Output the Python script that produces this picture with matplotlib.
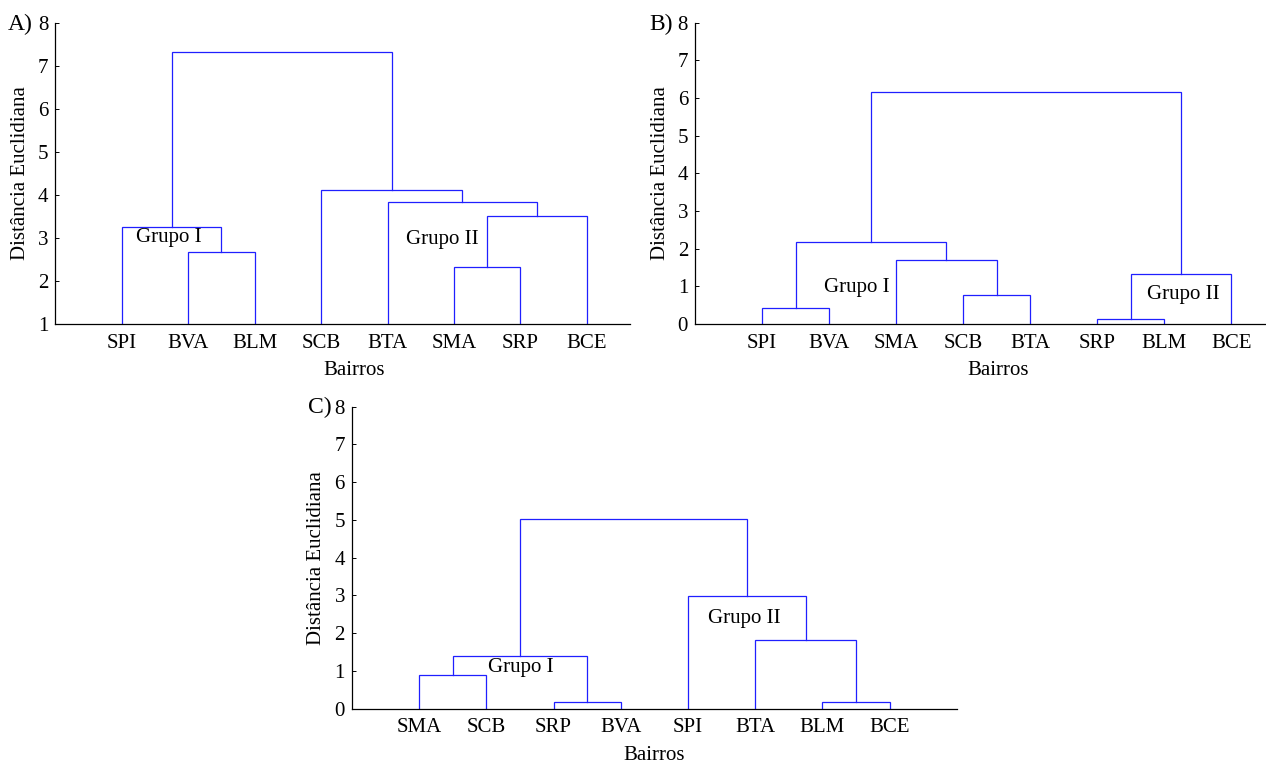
import matplotlib

matplotlib.use("Agg")
import matplotlib.pyplot as plt


# Panel A
LEAVES_A = ["SPI", "BVA", "BLM", "SCB", "BTA", "SMA", "SRP", "BCE"]
MERGES_A = [(1, 2), (0, 8), (5, 6), (10, 7), (4, 11), (3, 12), (9, 13)]
HEIGHTS_A = [2.665, 3.25, 2.325, 3.51, 3.835, 4.11, 7.31]

# Panel B
LEAVES_B = ["SPI", "BVA", "SMA", "SCB", "BTA", "SRP", "BLM", "BCE"]
MERGES_B = [(5, 6), (3, 4), (0, 1), (8, 7), (2, 9), (10, 12), (13, 11)]
HEIGHTS_B = [0.14, 0.76, 0.425, 1.32, 1.70, 2.19, 6.16]

# Panel C
LEAVES_C = ["SMA", "SCB", "SRP", "BVA", "SPI", "BTA", "BLM", "BCE"]
MERGES_C = [(2, 3), (6, 7), (0, 1), (10, 8), (5, 9), (4, 12), (11, 13)]
HEIGHTS_C = [0.185, 0.185, 0.90, 1.39, 1.81, 2.99, 5.02]

LINE_COLOR = "#1f1fff"
FONT = "Liberation Serif"
FS = 15


def draw_dendrogram(ax, leaves, merges, heights, base):
    xs = [i + 1.0 for i in range(len(leaves))]
    hs = [base] * len(leaves)
    for (a, b), h in zip(merges, heights):
        xa, xb = xs[a], xs[b]
        ax.plot([xa, xa, xb, xb], [hs[a], h, h, hs[b]], color=LINE_COLOR,
                linewidth=0.9, solid_joinstyle="miter")
        xs.append((xa + xb) / 2)
        hs.append(h)


def style_axes(ax, leaves, ylim, xmax, xlabel_x, ylabel_x):
    ax.set_xlim(0, xmax)
    ax.set_ylim(*ylim)
    ax.set_xticks(range(1, len(leaves) + 1), leaves)
    ax.set_yticks(range(int(ylim[0]), int(ylim[1]) + 1))
    for side in ("top", "right"):
        ax.spines[side].set_visible(False)
    for side in ("left", "bottom"):
        ax.spines[side].set_linewidth(0.9)
    ax.tick_params(axis="x", length=0, pad=7, labelsize=FS)
    ax.tick_params(axis="y", direction="in", length=3, width=0.7, pad=5, labelsize=FS)
    for lab in ax.get_xticklabels() + ax.get_yticklabels():
        lab.set_fontfamily(FONT)
    ax.set_ylabel("Distância Euclidiana", fontsize=FS, fontfamily=FONT)
    ax.set_xlabel("Bairros", fontsize=FS, fontfamily=FONT)
    ax.yaxis.set_label_coords(ylabel_x, 0.5)
    ax.xaxis.set_label_coords(xlabel_x, -0.122)
    ax.patch.set_alpha(0)


def group_label(ax, x, y, text):
    ax.text(x, y, text, ha="center", va="center", fontsize=FS, fontfamily=FONT)


def main():
    fig = plt.figure(figsize=(12.66, 7.63), dpi=100)
    W, H = 1266, 763

    def add_axes(left, top, right, bottom):
        return fig.add_axes([left / W, 1 - bottom / H, (right - left) / W, (bottom - top) / H])

    ax_a = add_axes(55.4, 22.7, 630, 324)
    draw_dendrogram(ax_a, LEAVES_A, MERGES_A, HEIGHTS_A, 1)
    style_axes(ax_a, LEAVES_A, (1, 8), 8.65, 0.52, -0.044)
    group_label(ax_a, 1.70, 3.0, "Grupo I")
    group_label(ax_a, 5.83, 2.97, "Grupo II")

    ax_b = add_axes(695, 22.7, 1266, 324)
    draw_dendrogram(ax_b, LEAVES_B, MERGES_B, HEIGHTS_B, 0)
    style_axes(ax_b, LEAVES_B, (0, 8), 8.52, 0.53, -0.044)
    group_label(ax_b, 2.41, 0.97, "Grupo I")
    group_label(ax_b, 7.29, 0.78, "Grupo II")

    ax_c = add_axes(351.9, 406.7, 956.7, 708.7)
    draw_dendrogram(ax_c, LEAVES_C, MERGES_C, HEIGHTS_C, 0)
    style_axes(ax_c, LEAVES_C, (0, 8), 9.0, 0.50, -0.043)
    group_label(ax_c, 2.51, 1.09, "Grupo I")
    group_label(ax_c, 5.84, 2.38, "Grupo II")

    for label, (px, py) in {"A)": (20, 24), "B)": (661, 24), "C)": (320, 407)}.items():
        fig.text(px / W, 1 - py / H, label, ha="center", va="center",
                 fontsize=17, fontfamily=FONT)

    fig.savefig("out.png", dpi=100)
    plt.close(fig)


if __name__ == "__main__":
    main()
